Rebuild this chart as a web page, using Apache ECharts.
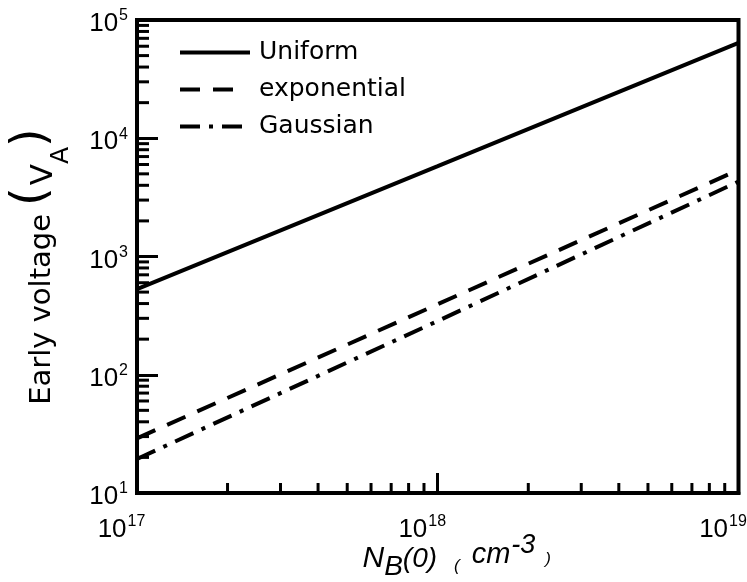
<!DOCTYPE html>
<html>
<head>
<meta charset="utf-8">
<script src="https://cdn.jsdelivr.net/npm/echarts@6/dist/echarts.min.js"></script>
<style>
  html, body { margin: 0; padding: 0; background: #ffffff; }
  #chart { width: 747px; height: 582px; }
</style>
</head>
<body>
<div id="chart"></div>
<script>
// Base doping concentration N_B(0) in cm^-3
const dopingLevels = [1e17, 1e18, 1e19];
// Early voltage V_A for each base doping profile
const uniformVA = [530, 5800, 64000];
const exponentialVA = [29, 395, 5400];
const gaussianVA = [19.4, 285, 4300];
const seriesNames = ['Uniform', 'exponential', 'Gaussian'];

// Decade tick labels (powers of ten)
const xTickExponents = [17, 18, 19];
const yTickExponents = [1, 2, 3, 4, 5];
const minorMantissas = [2, 3, 4, 5, 6, 7, 8, 9];

const X_MIN = Math.pow(10, xTickExponents[0]);
const X_MAX = Math.pow(10, xTickExponents[xTickExponents.length - 1]);
const Y_MIN = Math.pow(10, yTickExponents[0]);
const Y_MAX = Math.pow(10, yTickExponents[yTickExponents.length - 1]);

// Line dash patterns for the three profiles
const dashes = ['solid', [20, 13], [20, 9, 4, 9]];
const legendDashes = ['solid', [20, 13, 20, 20], [20, 9, 4, 9]];

function minorValues(exps) {
  const out = [];
  for (let i = 0; i < exps.length - 1; i++) {
    minorMantissas.forEach(m => out.push(m * Math.pow(10, exps[i])));
  }
  return out;
}

const tickFont = 'Liberation Sans, Arial, sans-serif';
const textFont = 'DejaVu Sans, sans-serif';

function powerLabel(exps) {
  return function (v) {
    const e = Math.round(Math.log10(v));
    if (exps.indexOf(e) < 0) return '';
    return '{b|10}{s|' + e + '}';
  };
}

const tickRich = {
  b: { fontFamily: tickFont, fontSize: 26, color: '#000', verticalAlign: 'middle' },
  s: { fontFamily: tickFont, fontSize: 16, color: '#000', verticalAlign: 'middle', padding: [0, 0, 16, 1] }
};

// Short inward minor ticks at 2..9 of each decade
function minorTicks(values, dir) {
  return {
    type: 'custom',
    silent: true,
    clip: false,
    z: 5,
    data: values.map(v => dir === 'x' ? [v, Y_MIN] : [X_MIN, v]),
    renderItem: function (params, api) {
      const p = api.coord([api.value(0), api.value(1)]);
      const shape = dir === 'x'
        ? { x1: p[0], y1: p[1], x2: p[0], y2: p[1] - 10 }
        : { x1: p[0], y1: p[1], x2: p[0] + 12, y2: p[1] };
      return { type: 'line', shape: shape, style: { stroke: '#000', lineWidth: 3 } };
    }
  };
}

function lineSeries(name, values, dash) {
  return {
    name: name,
    type: 'line',
    data: dopingLevels.map((x, i) => [x, values[i]]),
    showSymbol: false,
    symbol: 'none',
    z: 3,
    itemStyle: { color: '#000' },
    lineStyle: { color: '#000', width: 4, type: dash, cap: 'butt' }
  };
}

const chart = echarts.init(document.getElementById('chart'), null, { renderer: 'canvas' });

chart.setOption({
  animation: false,
  backgroundColor: '#ffffff',
  grid: {
    left: 137, right: 8.5, top: 20, bottom: 89,
    containLabel: false,
    outerBoundsMode: 'none',
    show: true, borderColor: '#000', borderWidth: 4, backgroundColor: 'transparent'
  },
  legend: {
    orient: 'vertical',
    left: 178,
    top: 40,
    padding: 0,
    itemWidth: 70,
    itemHeight: 20,
    itemGap: 12,
    data: seriesNames.map((n, i) => ({
      name: n,
      lineStyle: { width: 4, color: '#000', type: legendDashes[i] }
    })),
    itemStyle: { opacity: 0 },
    lineStyle: { width: 4, color: '#000' },
    textStyle: { fontFamily: textFont, fontSize: 25, color: '#000', padding: [0, 0, 0, 4] }
  },
  xAxis: {
    type: 'log',
    logBase: 10,
    min: X_MIN,
    max: X_MAX,
    splitLine: { show: false },
    axisLine: { show: true, onZero: false, lineStyle: { color: '#000', width: 4 } },
    axisTick: { show: true, inside: true, length: 20, lineStyle: { color: '#000', width: 3 } },
    axisLabel: {
      formatter: powerLabel(xTickExponents),
      rich: tickRich,
      margin: 21,
      padding: [0, 31, 0, 0]
    },
    name: '{n|N}{b|B}{p|(0)}{q|(}{c|cm}{e|-3}{r|)}',
    nameLocation: 'middle',
    nameGap: 39,
    nameMoveOverlap: false,
    nameTextStyle: {
      padding: [0, 0, 0, 38],
      rich: {
        n: { fontFamily: tickFont, fontStyle: 'italic', fontSize: 30, color: '#000', verticalAlign: 'middle' },
        b: { fontFamily: tickFont, fontStyle: 'italic', fontSize: 28, color: '#000', verticalAlign: 'middle', padding: [16, 0, 0, 0] },
        p: { fontFamily: tickFont, fontStyle: 'italic', fontSize: 28, color: '#000', verticalAlign: 'middle' },
        q: { fontFamily: tickFont, fontStyle: 'italic', fontSize: 17, color: '#000', verticalAlign: 'middle', padding: [14, 0, 0, 17] },
        c: { fontFamily: tickFont, fontStyle: 'italic', fontSize: 29, color: '#000', verticalAlign: 'middle', padding: [0, 0, 9, 12] },
        e: { fontFamily: tickFont, fontStyle: 'italic', fontSize: 27, color: '#000', verticalAlign: 'middle', padding: [0, 0, 27, 1] },
        r: { fontFamily: tickFont, fontStyle: 'italic', fontSize: 17, color: '#000', verticalAlign: 'middle', padding: [0, 0, 0, 10] }
      }
    }
  },
  yAxis: {
    type: 'log',
    logBase: 10,
    min: Y_MIN,
    max: Y_MAX,
    splitLine: { show: false },
    axisLine: { show: true, onZero: false, lineStyle: { color: '#000', width: 4 } },
    axisTick: { show: true, inside: true, length: 21, lineStyle: { color: '#000', width: 3 } },
    axisLabel: {
      formatter: powerLabel(yTickExponents),
      rich: tickRich,
      margin: 9,
      padding: [8, 0, 0, 0]
    },
    name: '{t|Early voltage}{p|(}{v|V}{s|A}{q|)}',
    nameLocation: 'middle',
    nameRotate: 90,
    nameGap: 62,
    nameMoveOverlap: false,
    nameTextStyle: {
      padding: [0, 20, 0, 0],
      rich: {
        t: { fontFamily: textFont, fontSize: 29, color: '#000', verticalAlign: 'middle' },
        p: { fontFamily: textFont, fontSize: 48, color: '#000', verticalAlign: 'middle', padding: [0, 0, 18, 8] },
        v: { fontFamily: textFont, fontSize: 31, color: '#000', verticalAlign: 'middle', padding: [4, 0, 0, 2] },
        s: { fontFamily: textFont, fontSize: 25, color: '#000', verticalAlign: 'middle', padding: [38, 0, 0, 0] },
        q: { fontFamily: textFont, fontSize: 48, color: '#000', verticalAlign: 'middle', padding: [0, 0, 18, 0] }
      }
    }
  },
  series: [
    lineSeries(seriesNames[0], uniformVA, dashes[0]),
    lineSeries(seriesNames[1], exponentialVA, dashes[1]),
    lineSeries(seriesNames[2], gaussianVA, dashes[2]),
    minorTicks(minorValues(xTickExponents), 'x'),
    minorTicks(minorValues(yTickExponents), 'y')
  ]
});
</script>
</body>
</html>
